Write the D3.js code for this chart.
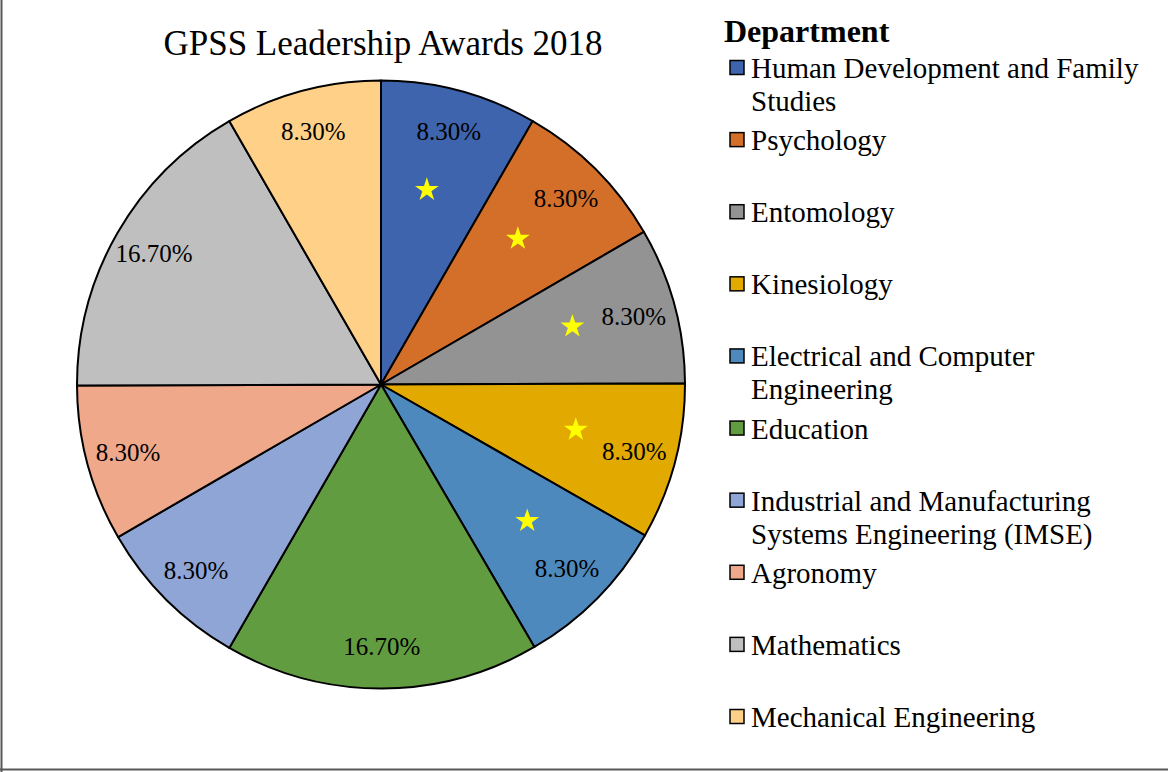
<!DOCTYPE html>
<html>
<head>
<meta charset="utf-8">
<script src="https://cdn.jsdelivr.net/npm/d3@7"></script>
<style>
  html, body { margin: 0; padding: 0; background: #fff; }
  svg { display: block; font-family: "Liberation Serif", "Times New Roman", serif; }
</style>
</head>
<body>
<svg id="chart" width="1168" height="772"></svg>
<script>
const title = "GPSS Leadership Awards 2018";
const legendTitle = "Department";
const categories = [
  "Human Development and Family Studies",
  "Psychology",
  "Entomology",
  "Kinesiology",
  "Electrical and Computer Engineering",
  "Education",
  "Industrial and Manufacturing Systems Engineering (IMSE)",
  "Agronomy",
  "Mathematics",
  "Mechanical Engineering"
];
const legendLines = [
  ["Human Development and Family", "Studies"],
  ["Psychology"],
  ["Entomology"],
  ["Kinesiology"],
  ["Electrical and Computer", "Engineering"],
  ["Education"],
  ["Industrial and Manufacturing", "Systems Engineering (IMSE)"],
  ["Agronomy"],
  ["Mathematics"],
  ["Mechanical Engineering"]
];
const values = [8.3, 8.3, 8.3, 8.3, 8.3, 16.7, 8.3, 8.3, 16.7, 8.3];
const starred = [true, true, true, true, true, false, false, false, false, false];
const colors = ["#3E64AD", "#D46F2A", "#939393", "#E2AA00", "#4E89BE",
                "#629C41", "#8FA5D5", "#F0A88A", "#BFBFBF", "#FFD188"];

const svg = d3.select("#chart");
const W = 1168, H = 772;

// frame (left and bottom edges visible)
svg.append("line").attr("x1", 1.5).attr("y1", 0).attr("x2", 1.5).attr("y2", H)
  .attr("stroke", "#595959").attr("stroke-width", 2);
svg.append("line").attr("x1", 0).attr("y1", 769.5).attr("x2", W).attr("y2", 769.5)
  .attr("stroke", "#595959").attr("stroke-width", 2);

// title
svg.append("text").attr("x", 383).attr("y", 55).attr("text-anchor", "middle")
  .attr("font-size", 35).attr("fill", "#000").text(title);

const cx = 381, cy = 384.5, R = 304;
const color = d3.scaleOrdinal().domain(categories).range(colors);
const pie = d3.pie().value(d => d.v).sort(null);
const data = categories.map((c, i) => ({ c, v: values[i], star: starred[i] }));
const arcs = pie(data);
const arc = d3.arc().innerRadius(0).outerRadius(R);
const labelArc = d3.arc().innerRadius(262).outerRadius(262);

const g = svg.append("g").attr("transform", `translate(${cx},${cy})`);
g.selectAll("path.slice").data(arcs).join("path")
  .attr("class", "slice")
  .attr("d", arc)
  .attr("fill", d => color(d.data.c))
  .attr("stroke", "#000").attr("stroke-width", 2).attr("stroke-linejoin", "round");

const star = d3.symbol().type(d3.symbolStar).size(175);
g.selectAll("path.star").data(arcs.filter(d => d.data.star)).join("path")
  .attr("class", "star")
  .attr("d", star)
  .attr("transform", d => {
    const a = (d.startAngle + d.endAngle) / 2 - 0.03;
    const p = [Math.sin(a) * 200, -Math.cos(a) * 200];
    return `translate(${p[0]},${p[1]})`;
  })
  .attr("fill", "#FFFF00");

g.selectAll("text.lbl").data(arcs).join("text")
  .attr("class", "lbl")
  .attr("transform", d => `translate(${labelArc.centroid(d)})`)
  .attr("text-anchor", "middle").attr("dominant-baseline", "central")
  .attr("font-size", 25).attr("fill", "#000")
  .text(d => d3.format(".2f")(d.data.v) + "%");

// legend
const lg = svg.append("g");
lg.append("text").attr("x", 724).attr("y", 42).attr("font-size", 32)
  .attr("font-weight", "bold").attr("fill", "#000").text(legendTitle);
const rowY = d3.scaleLinear().domain([0, 9]).range([68, 717]);
categories.forEach((c, i) => {
  const y = rowY(i);
  lg.append("rect").attr("x", 730).attr("y", y - 7.5).attr("width", 14).attr("height", 14)
    .attr("fill", color(c)).attr("stroke", "#000").attr("stroke-width", 1.5);
  legendLines[i].forEach((ln, j) => {
    lg.append("text").attr("x", 751).attr("y", y + j * 33)
      .attr("dominant-baseline", "central").attr("font-size", 29).attr("fill", "#000").text(ln);
  });
});
</script>
</body>
</html>
